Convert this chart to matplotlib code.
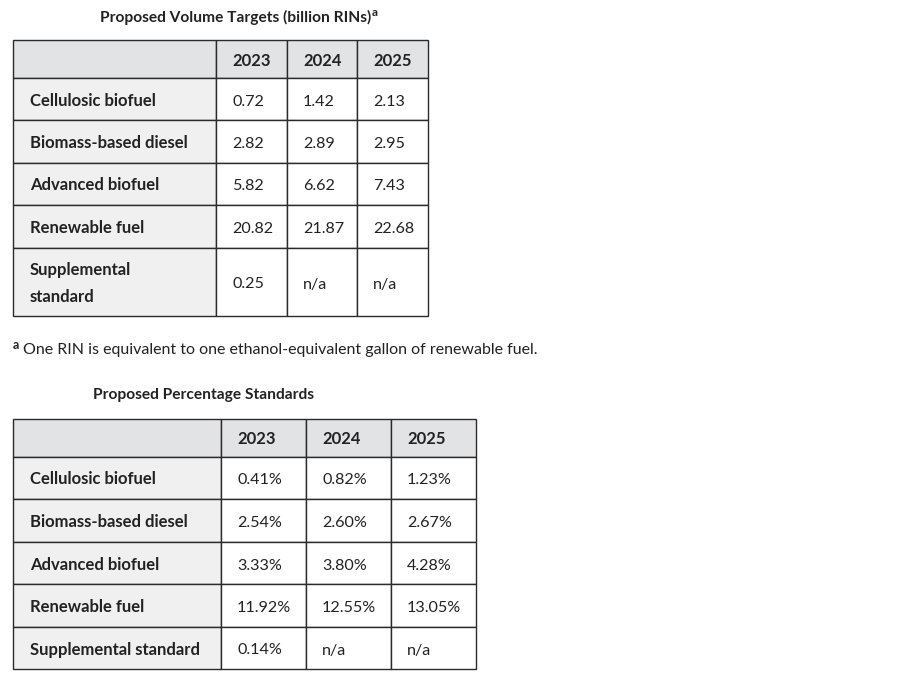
import matplotlib.pyplot as plt
from matplotlib.patches import Rectangle

plt.rcParams["font.family"] = ["Lato", "DejaVu Sans"]

years = ["2023", "2024", "2025"]

volume_rows = [
    "Cellulosic biofuel",
    "Biomass-based diesel",
    "Advanced biofuel",
    "Renewable fuel",
    "Supplemental\nstandard",
]
volume_2023 = [0.72, 2.82, 5.82, 20.82, 0.25]
volume_2024 = [1.42, 2.89, 6.62, 21.87, None]
volume_2025 = [2.13, 2.95, 7.43, 22.68, None]

pct_rows = [
    "Cellulosic biofuel",
    "Biomass-based diesel",
    "Advanced biofuel",
    "Renewable fuel",
    "Supplemental standard",
]
pct_2023 = [0.41, 2.54, 3.33, 11.92, 0.14]
pct_2024 = [0.82, 2.60, 3.80, 12.55, None]
pct_2025 = [1.23, 2.67, 4.28, 13.05, None]

HEADER_BG = "#e2e3e5"
LABEL_BG = "#f0f0f0"
BORDER = "#2b2b2b"
TEXT = "#222222"
FS = 12
VALUE_FS = 11.6
NOTE_FS = 11.5
TITLE_FS = 11.2
DY = 1.5  # nudge text down a touch


def fmt_volume(v):
    return "n/a" if v is None else f"{v:.2f}"


def fmt_pct(v):
    return "n/a" if v is None else f"{v:.2f}%"


def draw_table(ax, col_edges, row_edges, row_labels, columns, fmt):
    # header row
    for c in range(len(col_edges) - 1):
        x0, x1 = col_edges[c], col_edges[c + 1]
        y0, y1 = row_edges[0], row_edges[1]
        ax.add_patch(Rectangle((x0, y0), x1 - x0, y1 - y0, facecolor=HEADER_BG,
                               edgecolor=BORDER, linewidth=1.0))
        if c > 0:
            ax.text(x0 + 16, (y0 + y1) / 2 + DY, years[c - 1], ha="left",
                    va="center", fontsize=FS, fontweight="bold", color=TEXT)

    for r, label in enumerate(row_labels):
        y0, y1 = row_edges[r + 1], row_edges[r + 2]
        yc = (y0 + y1) / 2 + DY
        for c in range(len(col_edges) - 1):
            x0, x1 = col_edges[c], col_edges[c + 1]
            face = LABEL_BG if c == 0 else "white"
            ax.add_patch(Rectangle((x0, y0), x1 - x0, y1 - y0, facecolor=face,
                                   edgecolor=BORDER, linewidth=1.0))
        ax.text(col_edges[0] + 17, yc, label, ha="left", va="center", fontsize=FS,
                fontweight="bold", color=TEXT, linespacing=1.8)
        for c, values in enumerate(columns):
            ax.text(col_edges[c + 1] + 16, yc + 1, fmt(values[r]), ha="left",
                    va="center", fontsize=VALUE_FS, color=TEXT)


fig = plt.figure(figsize=(9.05, 6.79), dpi=100)
ax = fig.add_axes([0, 0, 1, 1])
ax.set_xlim(0, 905)
ax.set_ylim(679, 0)
ax.axis("off")

# first table
t1 = ax.text(100, 17, "Proposed Volume Targets (billion RINs)", ha="left",
             va="center", fontsize=TITLE_FS, fontweight="bold", color=TEXT)
fig.canvas.draw()
bb = t1.get_window_extent().transformed(ax.transData.inverted())
ax.text(bb.x1 + 1, 12, "a", ha="left", va="center", fontsize=8.5,
        fontweight="bold", color=TEXT)

draw_table(ax, [13, 216, 287, 357, 428], [40, 78, 120, 163, 205, 248, 316],
           volume_rows, [volume_2023, volume_2024, volume_2025], fmt_volume)

# footnote
ax.text(13, 345, "a", ha="left", va="center", fontsize=9, fontweight="bold",
        color=TEXT)
ax.text(23, 350, "One RIN is equivalent to one ethanol-equivalent gallon of renewable fuel.",
        ha="left", va="center", fontsize=NOTE_FS, color=TEXT)

# second table
ax.text(93, 395, "Proposed Percentage Standards", ha="left", va="center",
        fontsize=TITLE_FS, fontweight="bold", color=TEXT)
draw_table(ax, [13, 221, 306, 391, 476], [419, 457, 499, 542, 584, 627, 669],
           pct_rows, [pct_2023, pct_2024, pct_2025], fmt_pct)

fig.savefig("out.png", dpi=100, facecolor="white")
